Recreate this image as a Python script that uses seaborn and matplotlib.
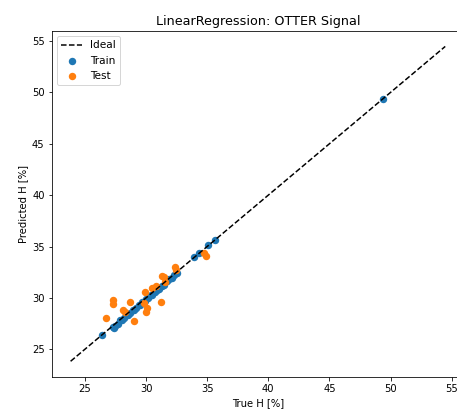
import matplotlib
matplotlib.use("Agg")
import matplotlib.pyplot as plt
import seaborn as sns
import pandas as pd

# Ideal-fit reference line endpoints
ideal = [23.83, 54.47]

# Training set: true vs predicted H [%]
train_true = [26.4, 27.3, 27.4, 27.5, 27.7, 27.9, 28.0, 28.2, 28.4, 28.5, 28.7,
              28.9, 29.0, 29.2, 29.4, 29.5, 29.7, 29.9, 30.0, 30.2, 30.4,
              30.5, 30.7, 30.9, 31.1, 31.3, 31.5, 31.7, 31.9, 32.1, 32.3,
              32.5, 33.9, 34.3, 35.1, 35.6, 49.4]
train_pred = [26.4, 27.2, 27.1, 27.3, 27.5, 27.8, 27.8, 28.0, 28.3, 28.3, 28.5,
              28.8, 28.8, 29.0, 29.3, 29.3, 29.6, 29.7, 29.9, 30.0, 30.3,
              30.3, 30.6, 30.8, 30.9, 31.2, 31.3, 31.6, 31.8, 31.9, 32.2,
              32.4, 34.0, 34.4, 35.1, 35.6, 49.4]

# Test set: true vs predicted H [%]
test_true = [26.72, 27.29, 27.29, 28.11, 28.27, 28.68, 29.01, 29.91, 29.82,
             30.07, 29.99, 30.48, 30.81, 31.21, 31.30, 31.46, 31.54, 32.36,
             32.44, 34.73, 34.89]
test_pred = [28.05, 29.80, 29.41, 28.82, 28.63, 29.60, 27.75, 30.57, 29.50,
             29.02, 28.63, 30.96, 31.16, 29.60, 32.13, 32.03, 31.55, 33.00,
             32.71, 34.37, 34.08]

train_df = pd.DataFrame({"true": train_true, "pred": train_pred})
test_df = pd.DataFrame({"true": test_true, "pred": test_pred})
ideal_df = pd.DataFrame({"x": ideal, "y": ideal})

plt.rcParams["font.family"] = ["DejaVu Sans"]
plt.rcParams["font.size"] = 10

fig = plt.figure(figsize=(457 / 72, 412 / 72), dpi=72)
ax = fig.add_axes([0.113, 0.0857, 0.903, 0.839])

sns.lineplot(data=ideal_df, x="x", y="y", ax=ax, color="k",
             linestyle="--", linewidth=1.5, label="Ideal")
sns.scatterplot(data=train_df, x="true", y="pred", ax=ax, color="#1f77b4",
                s=55, linewidth=0, label="Train")
sns.scatterplot(data=test_df, x="true", y="pred", ax=ax, color="#ff7f0e",
                s=55, linewidth=0, label="Test")

ax.set_xlim(22.28, 56.03)
ax.set_ylim(22.33, 55.97)
ax.set_xticks([25, 30, 35, 40, 45, 50, 55])
ax.set_yticks([25, 30, 35, 40, 45, 50, 55])
ax.set_xlabel("True H [%]")
ax.set_ylabel("Predicted H [%]")
ax.set_title("LinearRegression: OTTER Signal", fontsize=12.8)
ax.legend(loc="upper left", fontsize=10.5)

fig.savefig("out.png", dpi=72)
